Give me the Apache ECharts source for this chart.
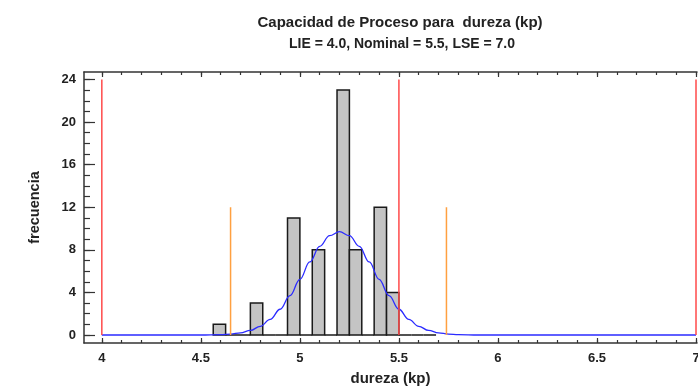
<!DOCTYPE html>
<html>
<head>
<meta charset="utf-8">
<title>Capacidad de Proceso</title>
<script src="https://cdn.jsdelivr.net/npm/echarts@6.0.0/dist/echarts.min.js"></script>
<style>
  html, body { margin: 0; padding: 0; background: #fff; }
  #chart { width: 698px; height: 387px; }
</style>
</head>
<body>
<div id="chart"></div>
<script>
// histograma: inicio de cada clase y frecuencia
const binWidth = 0.0625;
const binStarts = [4.5625, 4.625, 4.6875, 4.75, 4.8125, 4.875, 4.9375, 5.0, 5.0625,
  5.125, 5.1875, 5.25, 5.3125, 5.375, 5.4375, 5.5, 5.5625, 5.625];
const binCounts = [1, 0, 0, 3, 0, 0, 11, 0, 8, 0, 23, 8, 0, 12, 4, 0, 0, 0];

// curva normal ajustada
const curveX = [4.0, 4.5, 4.6, 4.65, 4.7, 4.75, 4.8, 4.85, 4.9, 4.95, 5.0, 5.05, 5.1, 5.15, 5.2,
  5.25, 5.3, 5.35, 5.4, 5.45, 5.5, 5.55, 5.6, 5.65, 5.7, 5.75, 5.8, 5.9, 7.0];
const curveY = [0, 0, 0.04, 0.09, 0.2, 0.43, 0.82, 1.47, 2.42, 3.7, 5.23, 6.86, 8.32, 9.33, 9.7,
  9.33, 8.32, 6.86, 5.23, 3.7, 2.42, 1.47, 0.82, 0.43, 0.2, 0.09, 0.04, 0, 0];

// limites de especificacion (LIE, Nominal, LSE) y limites 3 sigma
const specLimits = [4.0, 5.5, 7.0];
const specTop = 24;
const sigmaLimits = [4.65, 5.74];
const sigmaTop = 12;

// marcas de los ejes
const xMajor = [4, 4.5, 5, 5.5, 6, 6.5, 7];
const xMinor = [];
for (let i = 40; i <= 70; i++) xMinor.push(i / 10);
const yMajor = [0, 4, 8, 12, 16, 20, 24];
const yMinor = [];
for (let i = 0; i <= 24; i++) yMinor.push(i);

const chart = echarts.init(document.getElementById('chart'));

const font = 'Liberation Sans, Arial, sans-serif';
const axisColor = '#333';
const xMin = 3.91, xMax = 7.005, yMin = -0.75, yMax = 24.7;

function xAxisDef(pos, ticks, len, withLine, withLabel) {
  return {
    type: 'value', position: pos, min: xMin, max: xMax,
    name: withLabel ? 'dureza (kp)' : '',
    nameLocation: 'middle', nameGap: 28,
    nameTextStyle: { fontFamily: font, fontWeight: 'bold', fontSize: 15, color: '#222' },
    axisLine: { show: withLine, onZero: false, lineStyle: { color: axisColor, width: 1.5 } },
    axisTick: { show: true, inside: true, length: len, customValues: ticks,
      lineStyle: { color: axisColor, width: 1.2 } },
    axisLabel: { show: withLabel, customValues: xMajor, margin: 9,
      fontFamily: font, fontWeight: 'bold', fontSize: 13, color: '#222' },
    splitLine: { show: false }
  };
}

function yAxisDef(ticks, len, withLine, withLabel) {
  return {
    type: 'value', position: 'left', min: yMin, max: yMax,
    name: withLabel ? 'frecuencia' : '',
    nameLocation: 'middle', nameGap: 42, nameRotate: 90,
    nameTextStyle: { fontFamily: font, fontWeight: 'bold', fontSize: 14.5, color: '#222' },
    axisLine: { show: withLine, onZero: false, lineStyle: { color: axisColor, width: 1.5 } },
    axisTick: { show: true, inside: true, length: len, customValues: ticks,
      lineStyle: { color: axisColor, width: 1.2 } },
    axisLabel: { show: withLabel, customValues: yMajor, margin: 8,
      fontFamily: font, fontWeight: 'bold', fontSize: 13, color: '#222' },
    splitLine: { show: false }
  };
}

function vLines(xs, top, color) {
  return xs.map(x => ({
    type: 'line', xAxisIndex: 0, yAxisIndex: 0,
    data: [[x, 0], [x, top]],
    symbol: 'none', silent: true, z: 4,
    lineStyle: { color: color, width: 1.5 }
  }));
}

const option = {
  animation: false,
  title: [
    { text: 'Capacidad de Proceso para  dureza (kp)', left: 395, top: 10, textAlign: 'center',
      textStyle: { fontFamily: font, fontWeight: 'bold', fontSize: 15, color: '#222' } },
    { text: 'LIE = 4.0, Nominal = 5.5, LSE = 7.0', left: 397, top: 32, textAlign: 'center',
      textStyle: { fontFamily: font, fontWeight: 'bold', fontSize: 14, color: '#222' } }
  ],
  grid: { left: 84, right: 1, top: 72, bottom: 44, containLabel: false, outerBoundsMode: 'none' },
  xAxis: [
    xAxisDef('bottom', xMajor, 5, true, true),
    xAxisDef('bottom', xMinor, 3, false, false),
    xAxisDef('top', xMajor, 5, true, false),
    xAxisDef('top', xMinor, 3, false, false)
  ],
  yAxis: [
    yAxisDef(yMajor, 11, true, true),
    yAxisDef(yMinor, 6, false, false)
  ],
  series: [
    {
      type: 'custom', xAxisIndex: 0, yAxisIndex: 0, z: 2,
      data: binStarts.map((s, i) => [s, s + binWidth, binCounts[i]]),
      renderItem: function (params, api) {
        const p0 = api.coord([api.value(0), api.value(2)]);
        const p1 = api.coord([api.value(1), 0]);
        return {
          type: 'rect',
          shape: { x: p0[0], y: p0[1], width: p1[0] - p0[0], height: p1[1] - p0[1] },
          style: { fill: '#c4c4c4', stroke: '#1a1a1a', lineWidth: 1.5 }
        };
      },
      encode: { x: [0, 1], y: 2 }
    },
    {
      type: 'line', xAxisIndex: 0, yAxisIndex: 0, z: 3,
      data: curveX.map((x, i) => [x, curveY[i]]),
      smooth: 0.4, smoothMonotone: 'x', symbol: 'none', silent: true,
      lineStyle: { color: '#2b2bff', width: 1.3 }
    },
    ...vLines(specLimits, specTop, '#ff4a4a'),
    ...vLines(sigmaLimits, sigmaTop, '#ffa040')
  ]
};

chart.setOption(option);
</script>
</body>
</html>
